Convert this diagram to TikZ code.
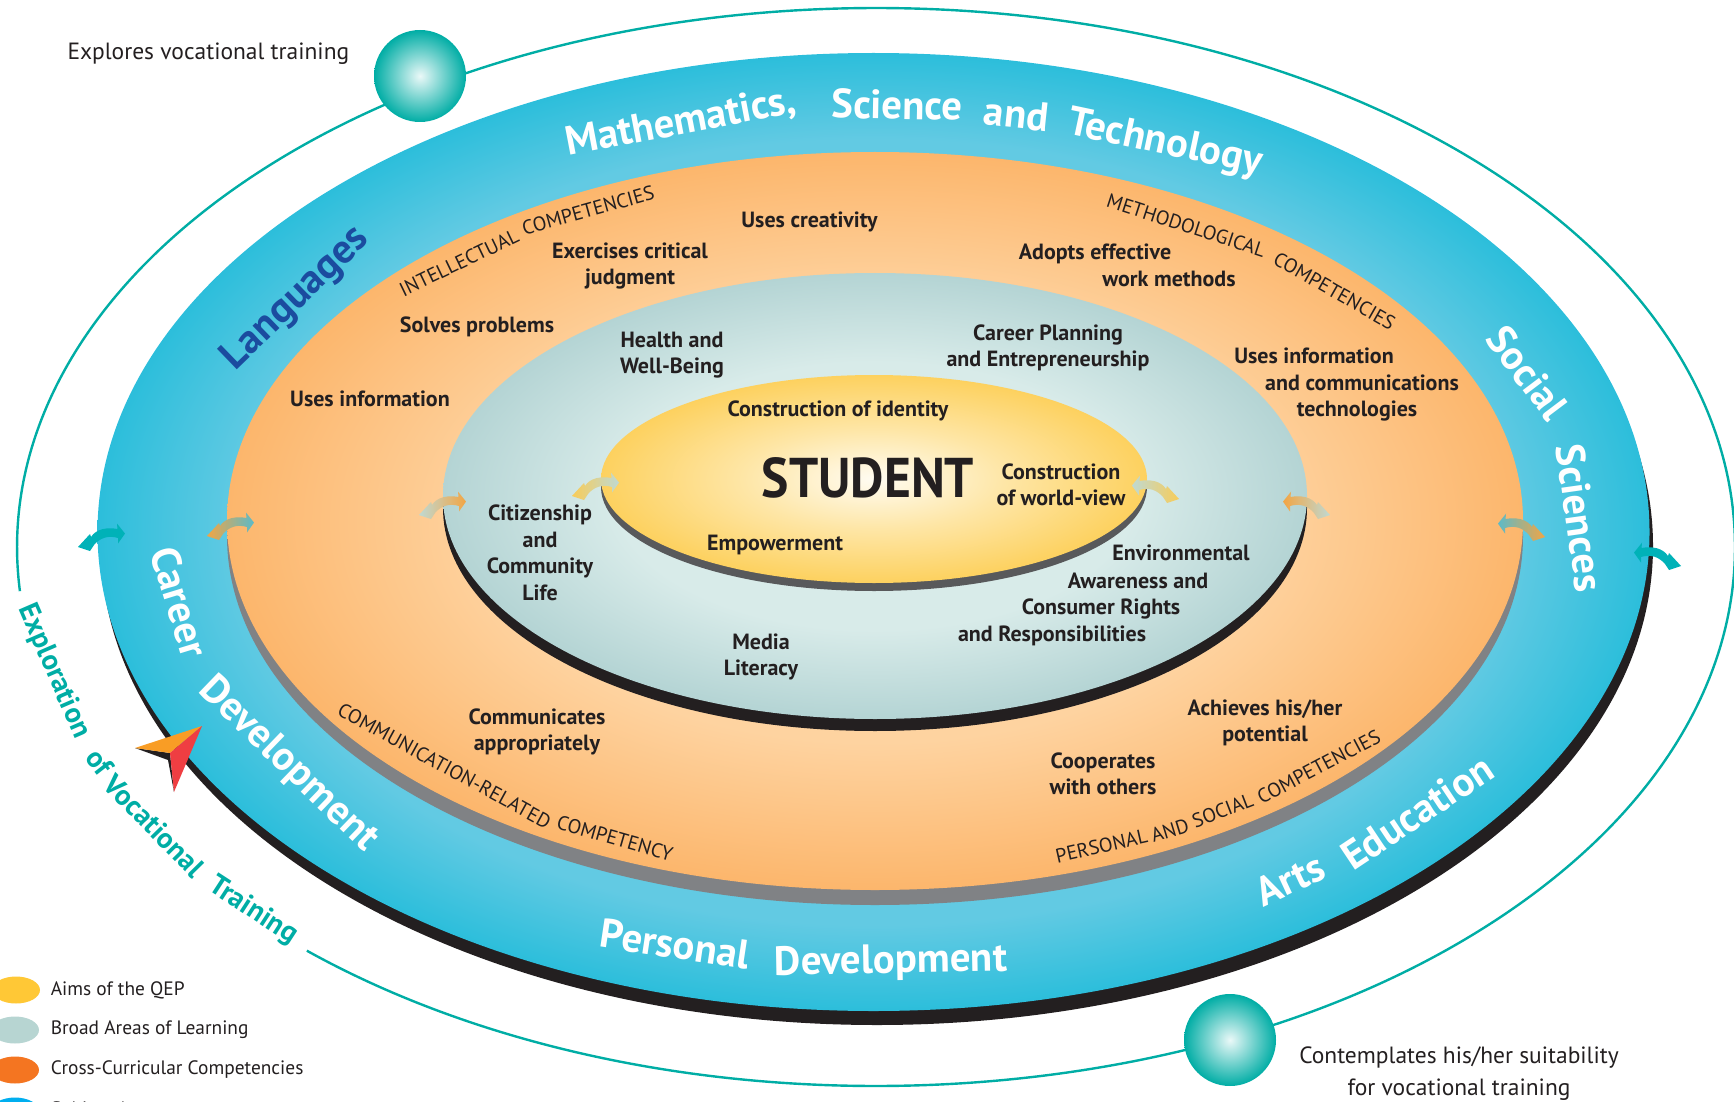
\documentclass[tikz,border=0pt]{standalone}
\usepackage{fontspec}
\setmainfont{PT Sans}
\usetikzlibrary{shapes}

\definecolor{ink}{HTML}{231F20}
\definecolor{orbitteal}{HTML}{00ADA5}
\definecolor{swingteal}{HTML}{00B2B8}
\definecolor{swingblue}{HTML}{5CBAC8}
\definecolor{swingpale}{HTML}{BFD9D2}
\definecolor{swingorange}{HTML}{F2A544}
\definecolor{swingyellow}{HTML}{F8CC58}
\definecolor{langblue}{HTML}{1B4C9F}
\definecolor{blueout}{HTML}{2CBEDB}
\definecolor{bluein}{HTML}{62CAE3}
\definecolor{orangeout}{HTML}{FCB66C}
\definecolor{orangein}{HTML}{FED3A0}
\definecolor{orangeedge}{HTML}{808285}
\definecolor{tealout}{HTML}{B4D4D4}
\definecolor{tealin}{HTML}{D8EBE9}
\definecolor{yellowout}{HTML}{FDD15F}
\definecolor{yellowmid}{HTML}{FEE6A6}
\definecolor{yellowin}{HTML}{FFFCF2}
\definecolor{yellowedge}{HTML}{58595B}
\definecolor{dartorange}{HTML}{F99D25}
\definecolor{dartred}{HTML}{EF3E42}
\definecolor{keyyellow}{HTML}{FFC836}
\definecolor{keyteal}{HTML}{B7D5D2}
\definecolor{keyorange}{HTML}{F47521}
\definecolor{keyblue}{HTML}{00AEEF}

\pgfdeclareradialshading{blueband}{\pgfpointorigin}{color(0bp)=(bluein); color(20.5bp)=(bluein); color(25bp)=(blueout); color(50bp)=(blueout)}
\pgfdeclareradialshading{orangeband}{\pgfpointorigin}{color(0bp)=(orangein); color(15bp)=(orangein); color(25bp)=(orangeout); color(50bp)=(orangeout)}
\pgfdeclareradialshading{tealband}{\pgfpointorigin}{color(0bp)=(tealin); color(15bp)=(tealin); color(25bp)=(tealout); color(50bp)=(tealout)}
\pgfdeclareradialshading{yellowband}{\pgfpointorigin}{color(0bp)=(yellowin); color(12bp)=(yellowmid); color(25bp)=(yellowout); color(50bp)=(yellowout)}

\tikzstyle{disc} = [ellipse, inner sep=0pt]
\tikzstyle{ball} = [circle, inner sep=0pt, minimum size=23pt, inner color=white!92!orbitteal, outer color=orbitteal]
\tikzstyle{skill} = [font=\fontsize{5.5}{6.625}\selectfont\bfseries, text=ink, align=center, inner sep=0pt]
\tikzstyle{note} = [font=\fontsize{5.87}{8}\selectfont, text=ink, align=center, inner sep=0pt]
\tikzstyle{keytext} = [font=\fontsize{4.85}{6}\selectfont, text=ink, anchor=west, inner sep=0pt]
\tikzstyle{keyspot} = [ellipse, inner sep=0pt, minimum width=12pt, minimum height=6.75pt]
\tikzstyle{bandword} = [font=\fontsize{10.2}{11.5}\selectfont\bfseries, text=white, anchor=base, inner sep=0pt]
\tikzstyle{capsword} = [font=\fontsize{5}{6}\selectfont, text=ink, anchor=base, inner sep=0pt]
\tikzstyle{orbitword} = [font=\fontsize{7.2}{8}\selectfont\bfseries, text=orbitteal, anchor=base, inner sep=0pt]

% two-headed swing arrow: x, y, mirror, colour at the left, colour at the right
\newcommand{\swing}[5]{\begin{scope}[shift={(#1,#2)}, xscale=#3]
	\path [left color=#4, right color=#5] (-24,9) -- (-12,-4) -- (-11,-1) .. controls (-6,-9) and (5,-11) .. (15.5,-9) -- (15,-14.4) -- (23,-4.4) -- (16,5.5) -- (16,0) .. controls (6,-3) and (-2,0) .. (-8,7) -- (-12,13) -- cycle;
\end{scope}}

\begin{document}
\begin{tikzpicture}[x=0.25pt, y=-0.25pt]
	\useasboundingbox (0,0) rectangle (1734,1102);

	% the orbit round everything
	\draw [orbitteal, line width=0.6pt] ([shift={(228.5:214.75pt and 134.75pt)}]876,547) arc [start angle=228.5, end angle=544.7, x radius=214.75pt, y radius=134.75pt];

	% discs, each on its shadow
	\node [disc, fill=ink, minimum width=388pt, minimum height=239.5pt] (outershadow) at (877,546) {};
	\node [disc, shading=blueband, minimum width=388pt, minimum height=239.5pt] (subjects) at (873.5,532) {};
	\node [disc, fill=orangeedge, minimum width=324pt, minimum height=184.5pt] (orangeshadow) at (875,536) {};
	\node [disc, shading=orangeband, minimum width=324pt, minimum height=184.5pt] (competencies) at (875,521) {};
	\node [disc, fill=ink, minimum width=216pt, minimum height=111.5pt] (tealshadow) at (875,508) {};
	\node [disc, shading=tealband, minimum width=216pt, minimum height=111.5pt] (areas) at (875,496) {};
	\node [disc, fill=yellowedge, minimum width=136.5pt, minimum height=52pt] (yellowshadow) at (874,487) {};
	\node [disc, shading=yellowband, minimum width=136.5pt, minimum height=52pt] (aims) at (874,479) {};

	% balls on the orbit
	\node [ball] (explores) at (420,76) {};
	\node [ball] (contemplates) at (1230,1040) {};
	\node [note, anchor=east] (explorestext) at (350,54) {Explores vocational training};
	\node [note] (contemplatestext) at (1459,1074) {Contemplates his/her suitability\\for vocational training};

	% band titles, word by word along the curve
	\node [bandword, rotate=10.8] (math1) at (683,134) {Mathematics,};
	\node [bandword, rotate=-1] (math2) at (897,119) {Science};
	\node [bandword, rotate=-6] (math3) at (1015,128) {and};
	\node [bandword, rotate=-12] (math4) at (1163,154) {Technology};
	\node [bandword, text=langblue, rotate=44] (lang) at (303,306) {Languages};
	\node [bandword, rotate=-53] (social1) at (1516,381) {Social};
	\node [bandword, rotate=-82] (social2) at (1566,520) {Sciences};
	\node [bandword, rotate=25] (arts1) at (1296,892) {Arts};
	\node [bandword, rotate=33.7] (arts2) at (1425,824) {Education};
	\node [bandword, rotate=-8.5] (personal1) at (673,958) {Personal};
	\node [bandword, rotate=1] (personal2) at (891,973) {Development};
	\node [bandword, rotate=-73] (career1) at (166,606) {Career};
	\node [bandword, rotate=-44] (career2) at (281,772) {Development};

	% name of the orbit
	\node [orbitword, rotate=-66.6] (orbit1) at (47,674) {Exploration};
	\node [orbitword, rotate=-52] (orbit2) at (92,768) {of};
	\node [orbitword, rotate=-45.6] (orbit3) at (147,833) {Vocational};
	\node [orbitword, rotate=-33] (orbit4) at (249,917) {Training};

	% competency titles
	\node [capsword, rotate=25.7] (intel1) at (462,269) {INTELLECTUAL};
	\node [capsword, rotate=15.5] (intel2) at (590,217) {COMPETENCIES};
	\node [capsword, rotate=-18] (method1) at (1184,232) {METHODOLOGICAL};
	\node [capsword, rotate=-29.7] (method2) at (1331,297) {COMPETENCIES};
	\node [capsword, rotate=-28.7] (comm1) at (441,772) {COMMUNICATION-RELATED};
	\node [capsword, rotate=-16] (comm2) at (613,845) {COMPETENCY};
	\node [capsword, rotate=12.7] (social3) at (1103,853) {PERSONAL};
	\node [capsword, rotate=17] (social4) at (1172,837) {AND};
	\node [capsword, rotate=21] (social5) at (1225,817) {SOCIAL};
	\node [capsword, rotate=28] (social6) at (1322,773) {COMPETENCIES};

	% competencies
	\node [skill] (creativity) at (809.5,222) {Uses creativity};
	\node [skill] (judgment) at (630,266) {Exercises critical\\judgment};
	\node [skill] (methods1) at (1095,254) {Adopts effective};
	\node [skill] (methods2) at (1169,279) {work methods};
	\node [skill] (problems) at (477,327) {Solves problems};
	\node [skill] (information) at (370,399) {Uses information};
	\node [skill] (ict1) at (1314,356) {Uses information};
	\node [skill] (ict2) at (1362,383) {and communications};
	\node [skill] (ict3) at (1357,411) {technologies};
	\node [skill] (communicates) at (537,732) {Communicates\\appropriately};
	\node [skill] (potential) at (1265,723) {Achieves his/her\\potential};
	\node [skill] (cooperates) at (1103,774) {Cooperates\\with others};

	% broad areas
	\node [skill] (health) at (672,355) {Health and\\Well-Being};
	\node [skill] (career) at (1048,348) {Career Planning\\and Entrepreneurship};
	\node [skill] (citizenship) at (540,553) {Citizenship\\and\\Community\\Life};
	\node [skill] (env1) at (1181,553) {Environmental};
	\node [skill] (env2) at (1138,581) {Awareness and};
	\node [skill] (env3) at (1101,609) {Consumer Rights};
	\node [skill] (env4) at (1052,636) {and Responsibilities};
	\node [skill] (media) at (761,657) {Media\\Literacy};

	% aims
	\node [skill] (identity) at (838,411) {Construction of identity};
	\node [skill] (worldview) at (1061,485) {Construction\\of world-view};
	\node [skill] (empowerment) at (775,545) {Empowerment};
	\node [font=\fontsize{14}{15}\selectfont\bfseries, text=ink, inner sep=0pt] (student) at (868,478) {\scalebox{0.92}[1]{STUDENT}};

	% swing arrows between the rings
	\swing{102}{538}{1}{swingteal}{swingteal}
	\swing{231}{527}{1}{swingorange}{swingblue}
	\swing{443}{506}{1}{swingpale}{swingorange}
	\swing{596}{487}{1}{swingyellow}{swingpale}
	\swing{1155}{490}{-1}{swingpale}{swingyellow}
	\swing{1306}{506}{-1}{swingorange}{swingpale}
	\swing{1521}{528}{-1}{swingblue}{swingorange}
	\swing{1657}{557}{-1}{swingteal}{swingteal}

	% paper dart
	\fill [ink] (135,748) -- (170,753) -- (174,792) -- (168,760) -- cycle;
	\fill [dartorange] (135,748) -- (202,726) -- (170,753) -- cycle;
	\fill [dartred] (202,726) -- (170,753) -- (174,792) -- cycle;

	% key
	\node [keyspot, fill=keyyellow] (keyaims) at (16,990) {};
	\node [keyspot, fill=keyteal] (keyareas) at (15,1030) {};
	\node [keyspot, fill=keyorange] (keycomp) at (15,1070) {};
	\node [keyspot, fill=keyblue] (keysubj) at (15,1111) {};
	\node [keytext] (aimstext) at (50,990) {Aims of the QEP};
	\node [keytext] (areastext) at (50,1030) {Broad Areas of Learning};
	\node [keytext] (comptext) at (50,1070) {Cross-Curricular Competencies};
	\node [keytext] (subjtext) at (50,1111) {Subject Areas};
\end{tikzpicture}
\end{document}
